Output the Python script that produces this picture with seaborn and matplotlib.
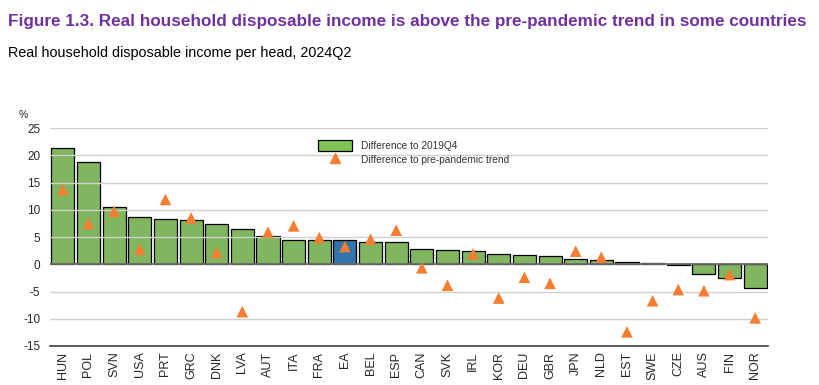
import matplotlib
matplotlib.use("Agg")
import matplotlib.pyplot as plt
import numpy as np
import pandas as pd
import seaborn as sns
from matplotlib.lines import Line2D
from matplotlib.patches import Patch

# ==============================================================================
# DATA
# ==============================================================================
countries = [
    "HUN", "POL", "SVN", "USA", "PRT", "GRC", "DNK", "LVA", "AUT", "ITA",
    "FRA", "EA", "BEL", "ESP", "CAN", "SVK", "IRL", "KOR", "DEU", "GBR",
    "JPN", "NLD", "EST", "SWE", "CZE", "AUS", "FIN", "NOR",
]
diff_2019q4 = [
    21.3, 18.8, 10.5, 8.7, 8.3, 8.2, 7.35, 6.4, 5.15, 4.5,
    4.45, 4.45, 4.1, 4.0, 2.75, 2.7, 2.5, 1.85, 1.65, 1.6,
    1.0, 0.8, 0.5, 0.25, -0.1, -1.7, -2.45, -4.35,
]
diff_trend = [
    13.7, 7.5, 9.7, 2.75, 11.9, 8.5, 2.2, -8.7, 5.9, 7.05,
    4.9, 3.25, 4.6, 6.25, -0.65, -3.85, 1.9, -6.2, -2.4, -3.5,
    2.4, 1.3, -12.4, -6.7, -4.65, -4.85, -1.9, -9.85,
]
y_ticks = [-15, -10, -5, 0, 5, 10, 15, 20, 25]

GREEN = "#7dc453"
BLUE = "#1f78c1"
ORANGE = "#f47d31"
PURPLE = "#7030a0"

df = pd.DataFrame({
    "country": countries,
    "diff_2019q4": diff_2019q4,
    "diff_trend": diff_trend,
})
palette = {c: (BLUE if c == "EA" else GREEN) for c in countries}

# ==============================================================================
# PLOT
# ==============================================================================
sns.set_style("white")
plt.rcParams["font.family"] = ["Liberation Sans", "DejaVu Sans"]

fig = plt.figure(figsize=(8.2, 3.85), dpi=100)
ax = fig.add_axes([0.061, 0.1013, 0.8756, 0.5662])

sns.barplot(
    data=df,
    x="country",
    y="diff_2019q4",
    hue="country",
    palette=palette,
    legend=False,
    width=0.9,
    edgecolor="black",
    linewidth=0.9,
    ax=ax,
    zorder=2,
)

# gridlines sit over the bars, as in the original
for t in y_ticks:
    if t in (0, -15):
        continue
    ax.axhline(t, color="#d0d0d0", linewidth=1.0, zorder=3)
ax.axhline(0, color="#6b6b6b", linewidth=1.3, zorder=3)

sns.scatterplot(
    data=df,
    x="country",
    y="diff_trend",
    marker="^",
    s=70,
    color=ORANGE,
    edgecolor="none",
    ax=ax,
    zorder=4,
)

ax.set_ylim(-15, 25)
ax.set_xlim(-0.5, len(countries) - 0.5)
ax.set_yticks(y_ticks)
ax.set_yticklabels([str(t) for t in y_ticks], fontsize=8.5)
ax.tick_params(axis="x", labelrotation=90, labelsize=9, length=0, pad=4)
ax.tick_params(axis="y", length=0, pad=7)
ax.set_xlabel("")
ax.set_ylabel("")

for side in ("top", "left", "right"):
    ax.spines[side].set_visible(False)
ax.spines["bottom"].set_color("#404040")
ax.spines["bottom"].set_linewidth(1.2)

ax.text(-0.044, 1.035, "%", transform=ax.transAxes, fontsize=7.5,
        ha="left", va="bottom")

handles = [
    Patch(facecolor=GREEN, edgecolor="black", linewidth=0.9),
    Line2D([], [], marker="^", color=ORANGE, linestyle="none", markersize=7),
]
leg = ax.legend(
    handles,
    ["Difference to 2019Q4", "Difference to pre-pandemic trend"],
    loc="upper left",
    bbox_to_anchor=(0.36, 0.985),
    frameon=False,
    fontsize=7.3,
    handlelength=3.4,
    handleheight=1.3,
    labelspacing=0.25,
    handletextpad=0.9,
)
for txt in leg.get_texts():
    txt.set_color("#333333")
leg.set_zorder(5)

fig.text(0.01, 0.945, "Figure 1.3. Real household disposable income is above the pre-pandemic trend in some countries",
         fontsize=12.3, fontweight="bold", color=PURPLE, ha="left", va="center")
fig.text(0.01, 0.862, "Real household disposable income per head, 2024Q2",
         fontsize=10.4, color="black", ha="left", va="center")

fig.savefig("out.png", dpi=100)
plt.close(fig)
